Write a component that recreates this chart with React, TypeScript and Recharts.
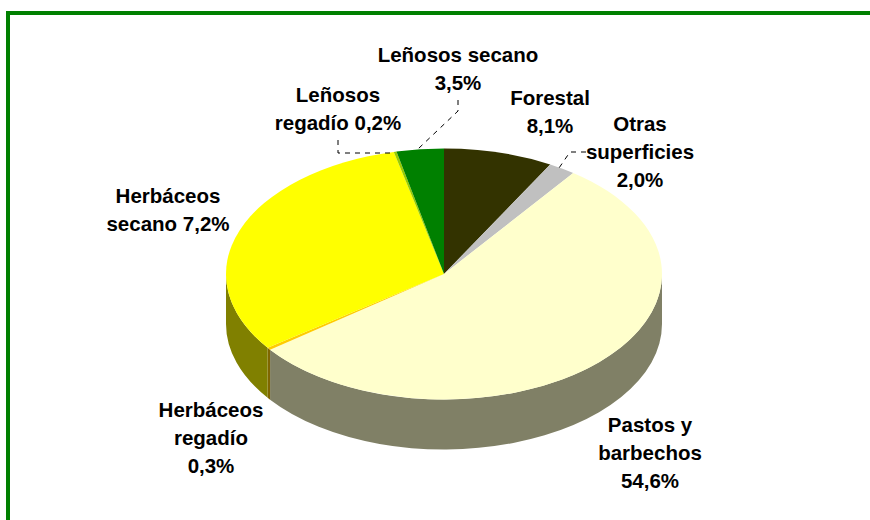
import { PieChart, Pie } from 'recharts';

const categories = [
  'Forestal',
  'Otras superficies',
  'Pastos y barbechos',
  'Herbáceos regadío',
  'Herbáceos secano',
  'Leñosos regadío',
  'Leñosos secano',
];
// share of the pie as drawn
const values = [8.1, 2.0, 54.6, 0.3, 31.3, 0.2, 3.5];
// text as printed on the chart (Herbáceos secano prints 7,2% on a much larger slice)
const labelLines = [
  ['Forestal', '8,1%'],
  ['Otras', 'superficies', '2,0%'],
  ['Pastos y', 'barbechos', '54,6%'],
  ['Herbáceos', 'regadío', '0,3%'],
  ['Herbáceos', 'secano 7,2%'],
  ['Leñosos', 'regadío 0,2%'],
  ['Leñosos secano', '3,5%'],
];
const topColors = ['#333300', '#C0C0C0', '#FFFFCC', '#FFCC00', '#FFFF00', '#99CC00', '#008000'];
const sideColors = ['#1A1A00', '#606060', '#808066', '#806600', '#808000', '#4D6600', '#004000'];

const data = categories.map((name, i) => ({ name, value: values[i] }));

// layout of the tilted pie
const CX = 444;
const CY = 274;
const RX = 218;
const RY = 125.5;
const DEPTH = 50;
const LINE_HEIGHT = 28;

// hand placed labels: centre x, baseline of first line
const labelPos = [
  [550, 105],
  [640, 131],
  [650, 432],
  [211, 417],
  [168, 203],
  [338, 102],
  [458, 62],
];
// leader lines, only the three small slices at the top have one
const leaders: Record<number, string> = {
  1: '586,152 570,152 559,168',
  5: '338,140 338,153 394,153',
  6: '458,100 458,111 418,149',
};

const pt = (deg: number, dy = 0) => {
  const a = (deg * Math.PI) / 180;
  return `${CX + RX * Math.cos(a)} ${CY - RY * Math.sin(a) + dy}`;
};

// flat top of a slice, squashed into an ellipse
const TopSlice = (props: any) => {
  const { startAngle, endAngle, index } = props;
  const large = Math.abs(startAngle - endAngle) > 180 ? 1 : 0;
  return (
    <path
      d={`M ${CX} ${CY} L ${pt(startAngle)} A ${RX} ${RY} 0 ${large} 1 ${pt(endAngle)} Z`}
      fill={topColors[index]}
      stroke="none"
    />
  );
};

// outer wall, only the part of the slice on the front half is visible
const SideSlice = (props: any) => {
  const { startAngle, endAngle, index } = props;
  const from = Math.min(startAngle, 0);
  const to = Math.max(endAngle, -180);
  if (from <= to) return <g />;
  return (
    <path
      d={`M ${pt(from)} A ${RX} ${RY} 0 0 1 ${pt(to)} L ${pt(to, DEPTH)} A ${RX} ${RY} 0 0 0 ${pt(from, DEPTH)} Z`}
      fill={sideColors[index]}
      stroke="none"
    />
  );
};

const SliceLabel = (props: any) => {
  const { index } = props;
  const [x, y] = labelPos[index];
  return (
    <text
      x={x}
      y={y}
      textAnchor="middle"
      fontFamily="'Liberation Sans', Arial, sans-serif"
      fontWeight="bold"
      fontSize={20.5}
      fill="#000"
    >
      {labelLines[index].map((line, i) => (
        <tspan key={i} x={x} y={y + i * LINE_HEIGHT}>
          {line}
        </tspan>
      ))}
    </text>
  );
};

const LeaderLine = (props: any) => {
  const points = leaders[props.index];
  if (!points) return <g />;
  return <polyline points={points} fill="none" stroke="#000" strokeWidth={1} strokeDasharray="5 5" />;
};

export default function App() {
  return (
    <div style={{ position: 'absolute', left: 0, top: 0, width: 870, height: 520, overflow: 'hidden', background: '#fff' }}>
      <div
        style={{
          position: 'absolute',
          left: 6,
          top: 11,
          width: 864,
          height: 509,
          boxSizing: 'border-box',
          borderTop: '4px solid #008000',
          borderLeft: '4px solid #008000',
        }}
      />
      <div style={{ position: 'absolute', left: 0, top: 0 }}>
        <PieChart width={870} height={520} margin={{ top: 0, right: 0, bottom: 0, left: 0 }}>
          <Pie
            data={data}
            dataKey="value"
            nameKey="name"
            cx={CX}
            cy={CY}
            outerRadius={RX}
            startAngle={90}
            endAngle={-270}
            paddingAngle={0}
            stroke="none"
            shape={SideSlice}
            inactiveShape={SideSlice}
            label={false}
            labelLine={false}
            isAnimationActive={false}
          />
          <Pie
            data={data}
            dataKey="value"
            nameKey="name"
            cx={CX}
            cy={CY}
            outerRadius={RX}
            startAngle={90}
            endAngle={-270}
            paddingAngle={0}
            stroke="none"
            shape={TopSlice}
            inactiveShape={TopSlice}
            label={SliceLabel}
            labelLine={LeaderLine}
            isAnimationActive={false}
          />
        </PieChart>
      </div>
    </div>
  );
}
